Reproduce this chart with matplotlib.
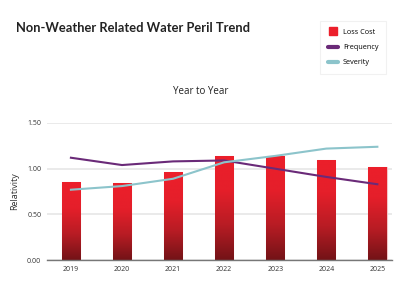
import numpy as np
import matplotlib.pyplot as plt
from matplotlib.colors import LinearSegmentedColormap
from matplotlib.lines import Line2D

years = ["2019", "2020", "2021", "2022", "2023", "2024", "2025"]
loss_cost = [0.85, 0.84, 0.96, 1.14, 1.14, 1.10, 1.02]
frequency = [1.12, 1.04, 1.08, 1.09, 1.00, 0.91, 0.83]
severity = [0.77, 0.81, 0.89, 1.07, 1.14, 1.22, 1.24]

plt.rcParams["font.family"] = ["Open Sans", "DejaVu Sans"]

fig = plt.figure(figsize=(4.01, 3.0), dpi=100)
ax = fig.add_axes([0.117, 0.133, 0.861, 0.457])

x = np.arange(len(years))
ax.set_xlim(-0.47, 6.29)
ax.set_ylim(0, 1.5)

cmap = LinearSegmentedColormap.from_list("red", ["#731317", "#b81c24", "#e51f2a", "#ec1f2b"])
grad = np.linspace(0, 1, 256).reshape(-1, 1)
width = 0.36
bars = ax.bar(x, loss_cost, width=width, color="none", edgecolor="#f3c4c6",
              linewidth=0.8, zorder=2)
for b in bars:
    x0, y0, w, h = b.get_x(), b.get_y(), b.get_width(), b.get_height()
    im = ax.imshow(grad, cmap=cmap, origin="lower", aspect="auto",
                   extent=[x0, x0 + w, y0, y0 + h], zorder=2)
    im.set_clip_path(b)

ax.plot(x, frequency, color="#6a2a78", linewidth=1.5, zorder=3)
ax.plot(x, severity, color="#8cc4cb", linewidth=1.5, zorder=3)

ax.set_yticks([0, 0.5, 1.0, 1.5])
ax.set_yticklabels(["0.00", "0.50", "1.00", "1.50"])
ax.set_xticks(x)
ax.set_xticklabels(years)
ax.tick_params(axis="both", length=0, labelsize=5, colors="#333333", pad=4)
ax.grid(axis="y", color="#e6e6e6", linewidth=1.2, zorder=0)
ax.set_axisbelow(True)
for s in ["top", "right", "left"]:
    ax.spines[s].set_visible(False)
ax.spines["bottom"].set_color("#777777")
ax.spines["bottom"].set_linewidth(1.0)
ax.set_ylabel("Relativity", fontsize=6.5, color="#333333", labelpad=6)

fig.text(0.04, 0.905, "Non-Weather Related Water Peril Trend", fontsize=9.3,
         fontweight="bold", color="#222222", va="center", family=["Lato", "DejaVu Sans"])
fig.text(0.5, 0.695, "Year to Year", fontsize=7, color="#222222",
         ha="center", va="center")

handles = [
    Line2D([0], [0], marker="s", color="none", markerfacecolor="#ec1f2b",
           markeredgecolor="#ec1f2b", markersize=6),
    Line2D([0], [0], color="#6a2a78", linewidth=3, solid_capstyle="round"),
    Line2D([0], [0], color="#8cc4cb", linewidth=3, solid_capstyle="round"),
]
leg = fig.legend(handles, ["Loss Cost", "Frequency", "Severity"],
                 loc="upper left", bbox_to_anchor=(0.79, 0.943),
                 fontsize=5.2, frameon=True, handlelength=1.4,
                 labelspacing=1.15, borderpad=1.1, handletextpad=0.6)
leg.get_frame().set_edgecolor("#eeeeee")
leg.get_frame().set_linewidth(0.8)
leg.get_frame().set_boxstyle("square", pad=0)

fig.savefig("out.png", dpi=100)
